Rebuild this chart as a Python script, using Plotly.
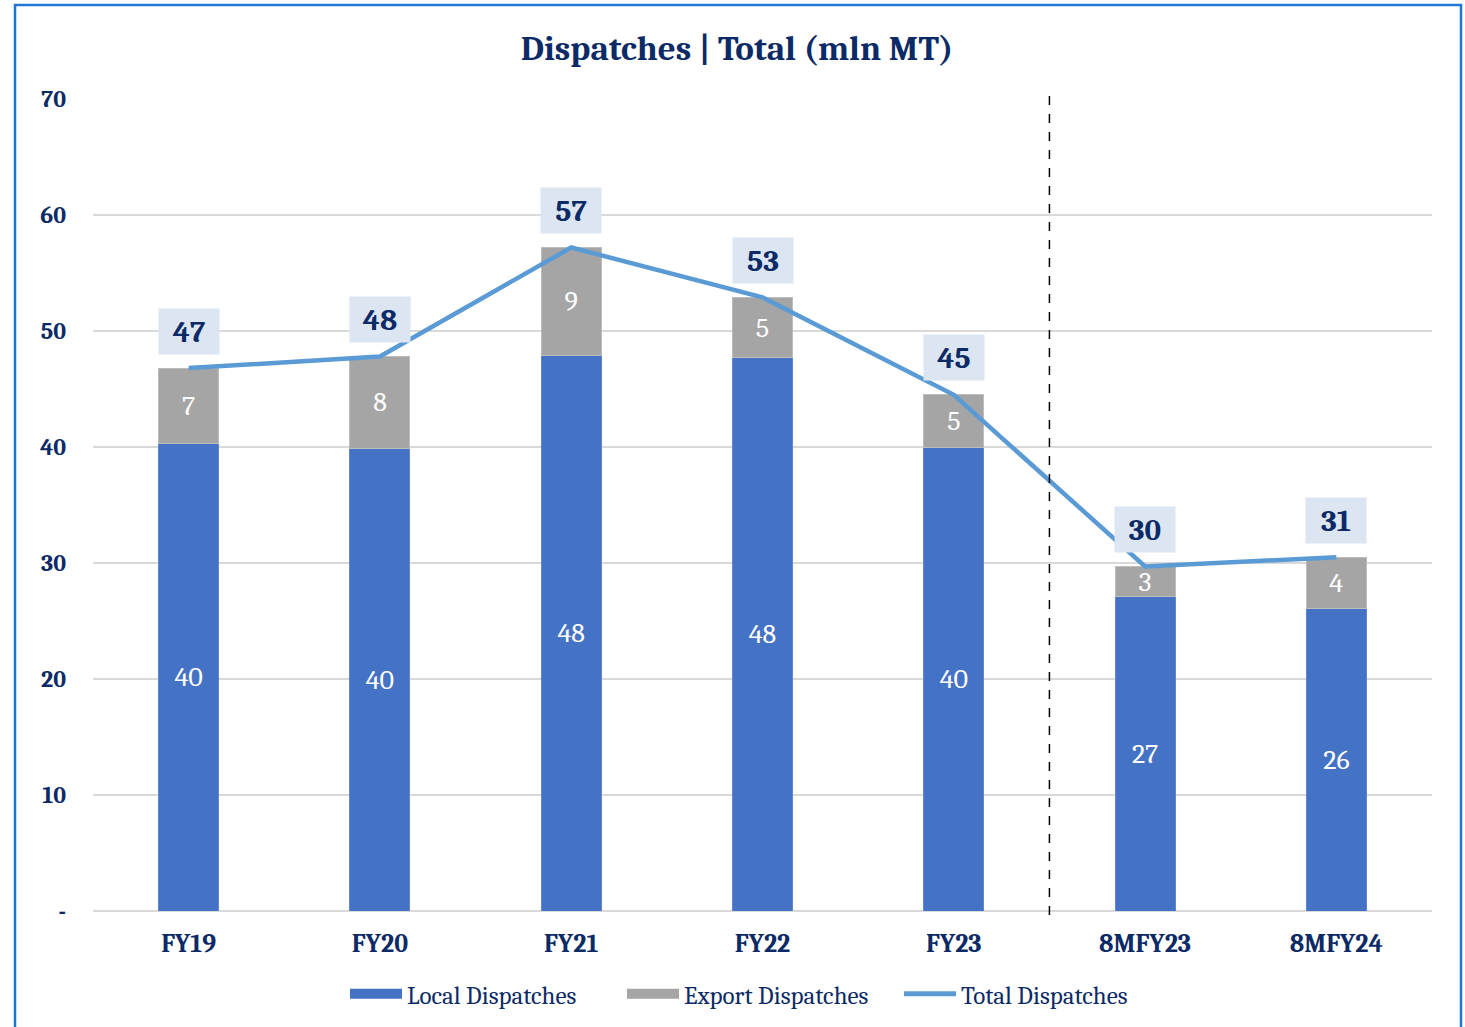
import plotly.graph_objects as go

categories = ["FY19", "FY20", "FY21", "FY22", "FY23", "8MFY23", "8MFY24"]
local_dispatches = [40.3, 39.9, 47.9, 47.7, 40.0, 27.1, 26.1]
export_dispatches = [6.5, 7.9, 9.3, 5.2, 4.5, 2.6, 4.4]
total_dispatches = [46.8, 47.8, 57.2, 52.9, 44.5, 29.7, 30.5]
y_tick_vals = [0, 10, 20, 30, 40, 50, 60, 70]
y_tick_text = ["-", "10", "20", "30", "40", "50", "60", "70"]

FONT = "Cambria, Caladea, 'Liberation Serif', serif"
NAVY = "#0B2A66"
LOCAL_C = "#4472C4"
EXPORT_C = "#A5A5A5"
TOTAL_C = "#5B9BD5"

W, H = 1465, 1027
ML, MR, MT, MB = 93, 33, 99, 116
PW, PH = W - ML - MR, H - MT - MB


def px_x(fx):
    return (fx - ML) / PW


def px_y(fy):
    return (H - MB - fy) / PH


def round_half_up(v):
    return int(v + 0.5)


fig = go.Figure()
fig.add_trace(go.Bar(
    x=categories, y=local_dispatches, name="Local Dispatches",
    showlegend=False,
    marker=dict(color=LOCAL_C, line=dict(color="#5F86CF", width=1)),
    text=local_dispatches, texttemplate="%{y:.0f}", textposition="inside",
    insidetextanchor="middle", textangle=0, constraintext="none",
    textfont=dict(family=FONT, size=28, color="white"),
))
fig.add_trace(go.Bar(
    x=categories, y=export_dispatches, name="Export Dispatches",
    showlegend=False,
    marker=dict(color=EXPORT_C, line=dict(color="#BDBDBD", width=1)),
    text=export_dispatches, texttemplate="%{y:.0f}", textposition="inside",
    insidetextanchor="middle", textangle=0, constraintext="none",
    textfont=dict(family=FONT, size=28, color="white"),
))
fig.add_trace(go.Scatter(
    x=categories, y=total_dispatches, name="Total Dispatches", mode="lines",
    showlegend=False,
    line=dict(color=TOTAL_C, width=4.5),
))
# legend entries (wide swatches like the reference)
for nm, col, lw in [("Local Dispatches", LOCAL_C, 14),
                    ("Export Dispatches", EXPORT_C, 14),
                    ("Total Dispatches", TOTAL_C, 5)]:
    fig.add_trace(go.Scatter(x=[None], y=[None], mode="lines", name=nm,
                             line=dict(color=col, width=lw), showlegend=True))

for c, t in zip(categories, total_dispatches):
    fig.add_annotation(
        x=c, y=t, text=f"<b>{round_half_up(t)}</b>", showarrow=False, yshift=37,
        bgcolor="#DCE6F2", width=58, height=43, align="center", valign="middle",
        font=dict(family=FONT, size=31, color=NAVY),
    )

fig.add_shape(type="line", xref="x", yref="paper", x0=4.5, x1=4.5, y0=-0.005, y1=1.006,
              line=dict(color="black", width=1.5, dash="dash"))

# outer border
fig.add_shape(type="rect", xref="paper", yref="paper",
              x0=px_x(15), x1=px_x(1461), y0=px_y(1040), y1=px_y(5),
              line=dict(color="#1F78D1", width=2.5), fillcolor="rgba(0,0,0,0)", layer="below")

fig.update_layout(
    width=W, height=H,
    barmode="stack", bargap=0.686,
    paper_bgcolor="white", plot_bgcolor="white",
    margin=dict(l=ML, r=MR, t=MT, b=MB),
    title=dict(text="<b>Dispatches | Total (mln MT)</b>", xref="container", x=737 / W,
               yref="container", y=1 - 48 / H, xanchor="center", yanchor="middle",
               font=dict(family=FONT, size=35, color=NAVY)),
    legend=dict(orientation="h", xref="container", yref="container", x=345 / W, y=1 - 994 / H,
                xanchor="left", yanchor="middle",
                font=dict(family=FONT, size=25, color=NAVY),
                itemwidth=52, entrywidth=210, entrywidthmode="pixels",
                traceorder="normal"),
    showlegend=True,
)
fig.update_yaxes(range=[0, 70], tickvals=y_tick_vals,
                 ticktext=[f"<b>{t}</b>" for t in y_tick_text],
                 showgrid=True, gridcolor="#D9D9D9", gridwidth=2,
                 zeroline=True, zerolinecolor="#D9D9D9", zerolinewidth=2,
                 ticklabelstandoff=26,
                 tickfont=dict(family=FONT, size=24, color=NAVY))
fig.update_xaxes(tickfont=dict(family=FONT, size=26, color=NAVY), ticklabelstandoff=14,
                 tickvals=categories, ticktext=[f"<b>{c}</b>" for c in categories],
                 showline=False)

fig.write_html("out.html", config={"displayModeBar": False},
               post_script="document.body.style.margin='0px';")
